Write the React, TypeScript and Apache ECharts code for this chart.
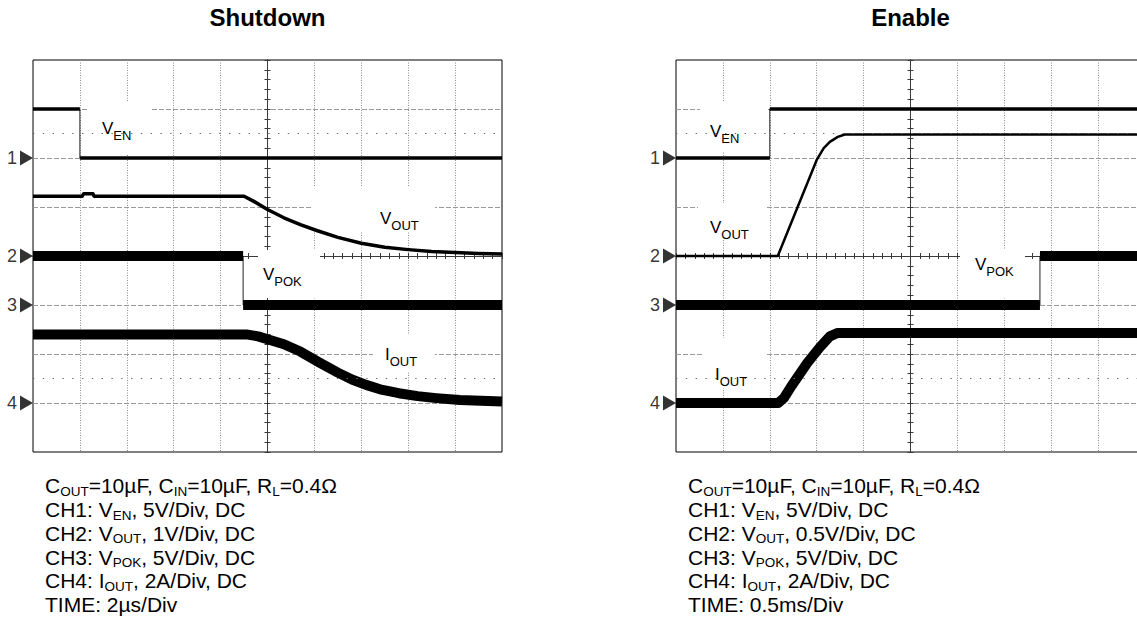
import React, { useEffect, useRef } from 'react';
import * as echarts from 'echarts';

// time in divisions from screen centre (-5..5), level in divisions from centre (-4..4)
const SD_VEN = [[-5, 3], [-4, 3], [-4, 2], [5, 2]];
const SD_VOUT = [[-5, 1.22], [-3.95, 1.22], [-3.92, 1.27], [-3.72, 1.27], [-3.7, 1.22], [-0.5, 1.22], [-0.3, 1.12], [0, 0.95], [0.35, 0.78], [0.7, 0.64], [1.05, 0.52], [1.5, 0.38], [2, 0.26], [2.5, 0.18], [3, 0.13], [3.5, 0.09], [4, 0.07], [4.5, 0.05], [5, 0.04]];
const SD_VPOK = [[-5, 0], [-0.52, 0], [-0.52, -1], [5, -1]];
const SD_IOUT = [[-5, -1.6], [-0.45, -1.6], [-0.2, -1.64], [0, -1.7], [0.35, -1.8], [0.7, -1.95], [1.1, -2.17], [1.5, -2.38], [1.8, -2.52], [2.1, -2.63], [2.4, -2.72], [2.8, -2.8], [3.2, -2.86], [3.6, -2.9], [4.1, -2.94], [5, -2.97]];

const EN_VEN = [[-5, 2], [-3, 2], [-3, 3], [5, 3]];
const EN_VOUT = [[-5, 0], [-2.83, 0], [-2.0, 1.96], [-1.85, 2.2], [-1.72, 2.33], [-1.55, 2.43], [-1.4, 2.48], [5, 2.48]];
const EN_VPOK = [[-5, -1], [2.76, -1], [2.76, 0], [5, 0]];
const EN_IOUT = [[-5, -3], [-2.82, -3], [-2.7, -2.9], [-2.55, -2.67], [-2.2, -2.18], [-1.93, -1.86], [-1.72, -1.64], [-1.55, -1.57], [5, -1.57]];

const CH_NAMES = ['1', '2', '3', '4'];
const SD_CH_LEVELS = [2, 0, -1, -3];
const EN_CH_LEVELS = [2, 0, -1, -3];
const HALF_LINES = [2.5, -2.5];

const TITLES = ['Shutdown', 'Enable'];
const TRACE_LABELS = [['V', 'EN'], ['V', 'OUT'], ['V', 'POK'], ['I', 'OUT']];

const SD_NOTES = [
  [['C', 'OUT'], ['=10µF, C', 'IN'], ['=10µF, R', 'L'], ['=0.4Ω', '']],
  [['CH1: V', 'EN'], [', 5V/Div, DC', '']],
  [['CH2: V', 'OUT'], [', 1V/Div, DC', '']],
  [['CH3: V', 'POK'], [', 5V/Div, DC', '']],
  [['CH4: I', 'OUT'], [', 2A/Div, DC', '']],
  [['TIME: 2µs/Div', '']],
];
const EN_NOTES = [
  [['C', 'OUT'], ['=10µF, C', 'IN'], ['=10µF, R', 'L'], ['=0.4Ω', '']],
  [['CH1: V', 'EN'], [', 5V/Div, DC', '']],
  [['CH2: V', 'OUT'], [', 0.5V/Div, DC', '']],
  [['CH3: V', 'POK'], [', 5V/Div, DC', '']],
  [['CH4: I', 'OUT'], [', 2A/Div, DC', '']],
  [['TIME: 0.5ms/Div', '']],
];

// ---------- layout ----------
const FONT = '"Liberation Sans", Arial, Helvetica, sans-serif';
const PANELS = [
  { left: 33, top: 60, width: 469, height: 392 },
  { left: 676, top: 60, width: 469, height: 392 },
];
// label placement: [textX, baseline, boxX, boxY, boxW, boxH]
const LABEL_POS = [
  [[102, 134, 88, 102, 64, 52], [380, 224, 313, 187, 122, 45], [263, 280, 258, 250, 62, 48], [385, 360, 373, 335, 62, 37]],
  [[710, 137, 700, 102, 68, 50], [710, 233, 698, 203, 69, 37], [975, 270, 960, 250, 65, 48], [715, 380, 703, 338, 62, 50]],
];
const TRACE_WIDTHS = [[3.5, 3.5, 10, 10], [3.5, 2.5, 10, 10]];

function esc(s: string) {
  return s.replace(/[{}|]/g, '');
}
function richLine(parts: string[][]) {
  return parts.map(([m, s]) => (m ? `{m|${esc(m)}}` : '') + (s ? `{s|${esc(s)}}` : '')).join('');
}
function breakVerticals(arr: number[][]) {
  const out: any[] = [];
  arr.forEach((p, i) => {
    if (i > 0 && arr[i - 1][0] === p[0]) out.push([p[0], '-']);
    out.push(p);
  });
  return out;
}

function buildOption() {
  const grids: any[] = [];
  const xAxes: any[] = [];
  const yAxes: any[] = [];
  const series: any[] = [];
  const graphics: any[] = [];
  const tickStyle = { color: '#3a3a3a', width: 1 };

  const panelData = [
    { traces: [SD_VEN, SD_VOUT, SD_VPOK, SD_IOUT], levels: SD_CH_LEVELS, notes: SD_NOTES },
    { traces: [EN_VEN, EN_VOUT, EN_VPOK, EN_IOUT], levels: EN_CH_LEVELS, notes: EN_NOTES },
  ];

  PANELS.forEach((p, g) => {
    grids.push({
      left: p.left, top: p.top, width: p.width, height: p.height,
      show: true, borderColor: '#000', borderWidth: 1, backgroundColor: 'transparent',
      containLabel: false, outerBoundsMode: 'none',
    });
    const base = { type: 'value', gridIndex: g, min: -5, max: 5, interval: 1, axisLabel: { show: false } };
    const ybase = { type: 'value', gridIndex: g, min: -4, max: 4, interval: 1, axisLabel: { show: false } };
    // main graticule
    xAxes.push({
      ...base, axisLine: { show: false }, axisTick: { show: false },
      splitLine: { show: true, showMinLine: false, showMaxLine: false, lineStyle: { color: '#8c8c8c', width: 1, type: [1, 1.5] } },
    });
    yAxes.push({
      ...ybase, axisLine: { show: false }, axisTick: { show: false },
      splitLine: { show: true, showMinLine: false, showMaxLine: false, lineStyle: { color: '#9a9a9a', width: 1, type: [5, 2] } },
    });
    // centre lines with crossing ticks
    ['bottom', 'top'].forEach((pos) => {
      xAxes.push({
        ...base, position: pos,
        axisLine: { show: true, onZero: true, lineStyle: tickStyle },
        axisTick: { show: true, inside: true, length: 3, lineStyle: tickStyle },
        minorTick: { show: true, splitNumber: 5, length: 3, lineStyle: tickStyle },
        splitLine: { show: false },
      });
    });
    ['left', 'right'].forEach((pos) => {
      yAxes.push({
        ...ybase, position: pos,
        axisLine: { show: true, onZero: true, lineStyle: tickStyle },
        axisTick: { show: true, inside: true, length: 3, lineStyle: tickStyle },
        minorTick: { show: true, splitNumber: 5, length: 3, lineStyle: tickStyle },
        splitLine: { show: false },
      });
    });

    const ax = { xAxisIndex: g * 3, yAxisIndex: g * 3 };
    const pd = panelData[g];
    pd.traces.forEach((tr, i) => {
      series.push({
        type: 'line', ...ax, data: tr, symbol: 'none', silent: true, z: 1,
        lineStyle: { color: '#222', width: 1 },
        markLine: i === 0 ? {
          silent: true, symbol: 'none', label: { show: false },
          lineStyle: { color: '#6a6a6a', width: 1.2, type: [1.4, 8.4] },
          data: HALF_LINES.map((v) => ({ yAxis: v })),
        } : undefined,
      });
      series.push({
        type: 'line', ...ax, data: breakVerticals(tr), symbol: 'none', silent: true, z: 3,
        lineStyle: { color: '#000', width: TRACE_WIDTHS[g][i], cap: 'butt', join: 'round' },
      });
    });
    series.push({
      type: 'scatter', ...ax, silent: true, clip: false, z: 5,
      data: pd.levels.map((v, i) => [-5, v, CH_NAMES[i]]),
      symbol: 'triangle', symbolSize: [15, 13], symbolRotate: -90, symbolOffset: [-6.5, 0],
      itemStyle: { color: '#000' },
      label: {
        show: true, position: 'left', distance: 3, formatter: (q: any) => q.data[2],
        color: '#000', fontSize: 18, fontFamily: FONT,
      },
    });

    // title
    graphics.push({
      type: 'text', x: p.left + p.width / 2, y: 5.7, z: 20,
      style: { text: TITLES[g], fill: '#000', font: `bold 24px ${FONT}`, align: 'center', verticalAlign: 'top' },
    });
    // trace labels with white boxes (above graticule, below traces)
    TRACE_LABELS.forEach((lab, i) => {
      const [tx, bl, bx, by, bw, bh] = LABEL_POS[g][i];
      graphics.push({ type: 'rect', z: 1.5, silent: true, shape: { x: bx, y: by, width: bw, height: bh }, style: { fill: '#fff' } });
      graphics.push({
        type: 'text', x: tx, y: bl - 15.9, z: 11,
        style: {
          text: richLine([lab]), align: 'left', verticalAlign: 'top', fill: '#000',
          rich: {
            m: { fontSize: 17, fontFamily: FONT, lineHeight: 20, fill: '#000' },
            s: { fontSize: 13, fontFamily: FONT, lineHeight: 6, verticalAlign: 'top', padding: [10.5, 0, 0, 0], fill: '#000' },
          },
        },
      });
    });
    // notes
    pd.notes.forEach((line, k) => {
      const baseline = 493 + k * 23.8;
      graphics.push({
        type: 'text', x: p.left + 12, y: baseline - 19.3, z: 11,
        style: {
          text: richLine(line), align: 'left', verticalAlign: 'top', fill: '#000',
          rich: {
            m: { fontSize: 21, fontFamily: FONT, lineHeight: 24, fill: '#000' },
            s: { fontSize: 13.5, fontFamily: FONT, lineHeight: 8, verticalAlign: 'top', padding: [10.5, 0, 0, 0], fill: '#000' },
          },
        },
      });
    });
  });

  return {
    animation: false,
    backgroundColor: '#fff',
    grid: grids,
    xAxis: xAxes,
    yAxis: yAxes,
    series,
    graphic: { elements: graphics },
  };
}

export default function App() {
  const ref = useRef<HTMLDivElement>(null);
  useEffect(() => {
    const chart = echarts.init(ref.current!, null, { renderer: 'svg', width: 1137, height: 625 });
    chart.setOption(buildOption() as any);
    return () => chart.dispose();
  }, []);
  return (
    <div
      ref={ref}
      style={{ position: 'fixed', left: 0, top: 0, width: 1137, height: 625, background: '#fff' }}
    />
  );
}
